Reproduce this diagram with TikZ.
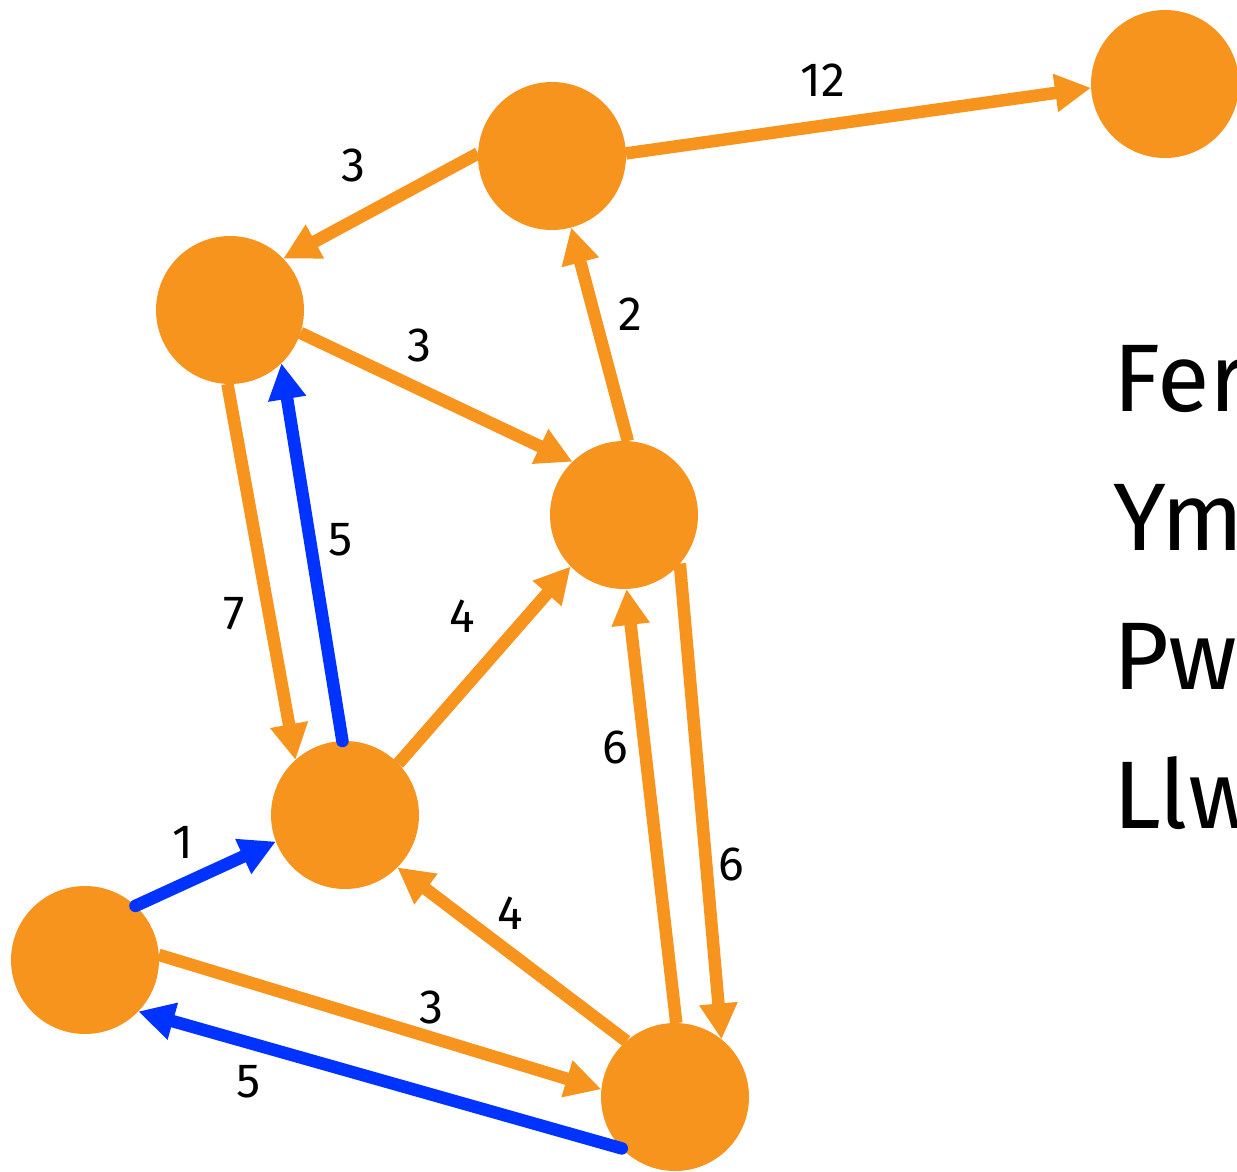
\documentclass[tikz,border=0pt]{standalone}
\usepackage{fontspec}
\setmainfont{Fira Sans}
\usetikzlibrary{arrows.meta}
\definecolor{nodeorange}{RGB}{247,148,30}
\definecolor{pathblue}{RGB}{0,51,255}

\begin{document}
\begin{tikzpicture}[x=1pt, y=-1pt, >={Triangle[length=36pt,width=36pt]},
    city/.style={circle, fill=nodeorange, minimum size=148pt, inner sep=0pt, outer sep=0pt},
    road/.style={->, draw=nodeorange, line width=12.5pt},
    best/.style={->, draw=pathblue, line width=12.5pt, line cap=round},
    lbl/.style={text=black, inner sep=0pt, font=\fontsize{48}{48}\selectfont}]
    \useasboundingbox (0,0) rectangle (1237,1172);
    % the places
    \node (a) at (1165,84) [city] {};
    \node (b) at (552,156) [city] {};
    \node (c) at (230,310) [city] {};
    \node (d) at (624,515) [city] {};
    \node (e) at (345,815) [city] {};
    \node (f) at (85,960) [city] {};
    \node (g) at (675,1097) [city] {};

    % weighted roads
    \draw [road] (b.2) -- (a.183) node [lbl, pos=.436, xshift=-6pt, yshift=45pt] {12};
    \draw [road] (b.178) -- (c.44) node [lbl, pos=.523, xshift=-23pt, yshift=43pt] {3};
    \draw [road] (c.-18) -- (d.134) node [lbl, pos=.375, xshift=17pt, yshift=36pt] {3};
    \draw [road] (d.87) -- (b.-75) node [lbl, pos=.552, xshift=34pt, yshift=9pt] {2};
    \draw [road] (c.-92) -- (e.132) node [lbl, pos=.596, xshift=-34pt, yshift=-6pt] {7};
    \draw [road] (e.44) -- (d.224) node [lbl, pos=.585, xshift=-37pt, yshift=32pt] {4};
    \draw [road] (d.-41) -- (g.51) node [lbl, pos=.637, xshift=25pt, yshift=2pt] {6};
    \draw [road] (g.89) -- (d.-88) node [lbl, pos=.641, xshift=-29pt, yshift=-3pt] {6};
    \draw [road] (g.131) -- (e.-45) node [lbl, pos=.588, xshift=19pt, yshift=26pt] {4};
    \draw [road] (f.4) -- (g.174) node [lbl, pos=.597, xshift=8pt, yshift=28pt] {3};

    % shortest path
    \draw [best] (f.47) -- (e.201) node [lbl, pos=.451, xshift=-16pt, yshift=34pt] {1};
    \draw [best] (e.92) -- (c.-46) node [lbl, pos=.519, xshift=30pt, yshift=5pt] {5};
    \draw [best] (g.224) -- (f.-44) node [lbl, pos=.752, xshift=-10pt, yshift=-36pt] {5};

    \node (legend) at (1113,828) [anchor=base west, align=left, inner sep=0pt,
        font=\fontsize{96}{139}\selectfont] {Fer\\Ym\\Pw\\Llw};
\end{tikzpicture}
\end{document}
